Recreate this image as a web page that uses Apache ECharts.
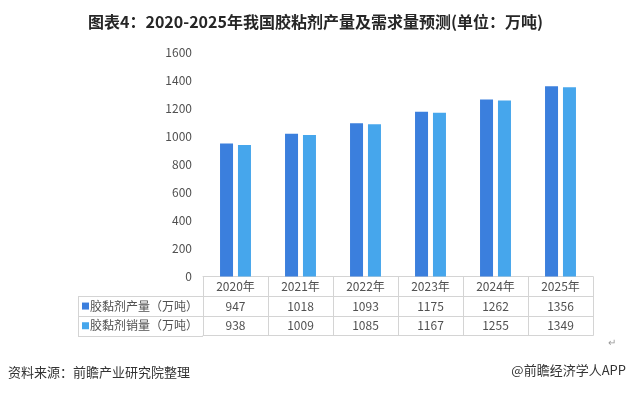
<!DOCTYPE html>
<html>
<head>
<meta charset="utf-8">
<script src="https://cdn.jsdelivr.net/npm/echarts@6/dist/echarts.min.js"></script>
<style>
html,body{margin:0;padding:0;background:#fff;}
#chart{width:631px;height:393px;}
</style>
</head>
<body>
<div id="chart"></div>
<script>
var titleText = '图表4：2020-2025年我国胶粘剂产量及需求量预测(单位：万吨)';
var categories = ['2020年','2021年','2022年','2023年','2024年','2025年'];
var seriesNames = ['胶黏剂产量（万吨）','胶黏剂销量（万吨）'];
var production = [947, 1018, 1093, 1175, 1262, 1356];
var sales = [938, 1009, 1085, 1167, 1255, 1349];
var yTicks = [0, 200, 400, 600, 800, 1000, 1200, 1400, 1600];
var sourceText = '资料来源：前瞻产业研究院整理';
var brandText = '@前瞻经济学人APP';

var colors = ['#3b7fdd', '#46a6ec'];
var FONT = '"Noto Sans CJK SC", "Noto Sans", sans-serif';
var lineColor = '#d4d4d4';
var textColor = '#505050';

var chart = echarts.init(document.getElementById('chart'), null, {renderer: 'canvas'});

var gridLeft = 203, gridRight = 38, gridTop = 52, gridBottom = 116.5;
var rowH = 19.7;

function tableAxis(data, offset, showLine, showTicks) {
  return {
    type: 'category',
    data: data,
    position: 'bottom',
    offset: offset,
    gridIndex: 0,
    axisLine: {show: showLine, lineStyle: {color: lineColor, width: 1}},
    axisTick: {show: showTicks, alignWithLabel: false, interval: 0, length: rowH * 3, lineStyle: {color: lineColor}},
    axisLabel: {show: true, interval: 0, color: textColor, fontSize: 12, fontFamily: FONT, margin: 4},
    splitLine: {show: false}
  };
}

var option = {
  backgroundColor: '#ffffff',
  animation: false,
  textStyle: {fontFamily: FONT},
  title: {
    text: titleText,
    left: 'center',
    top: 9,
    textStyle: {fontSize: 16, fontWeight: 'bold', color: '#262626', fontFamily: FONT}
  },
  grid: {left: gridLeft, right: gridRight, top: gridTop, bottom: gridBottom, containLabel: false},
  yAxis: {
    type: 'value',
    min: yTicks[0],
    max: yTicks[yTicks.length - 1],
    interval: yTicks[1] - yTicks[0],
    axisLine: {show: false},
    axisTick: {show: false},
    splitLine: {show: false},
    axisLabel: {color: textColor, fontSize: 12, fontFamily: FONT, margin: 11,
      formatter: function (v) { return String(v); }}
  },
  xAxis: [
    tableAxis(categories, 0, true, true),
    tableAxis(production.map(String), rowH, true, false),
    tableAxis(sales.map(String), rowH * 2, true, false),
    Object.assign(tableAxis(categories, rowH * 3, true, false), {axisLabel: {show: false}})
  ],
  series: [
    {
      name: seriesNames[0], type: 'bar', xAxisIndex: 0, data: production,
      barWidth: 13, barGap: '38%',
      itemStyle: {color: colors[0]}
    },
    {
      name: seriesNames[1], type: 'bar', xAxisIndex: 0, data: sales,
      barWidth: 13, barGap: '38%',
      itemStyle: {color: colors[1]}
    }
  ],
  graphic: []
};

chart.setOption(option);

// table left column (legend-like labels) positioned from the axis geometry
var baseY = chart.convertToPixel({yAxisIndex: 0}, 0);
var y1 = baseY + rowH, y2 = baseY + rowH * 2, y3 = baseY + rowH * 3;
var leftX = 78;
var graphics = [];
[y1, y2, y3].forEach(function (yy) {
  graphics.push({type: 'line', shape: {x1: leftX, y1: Math.round(yy) + 0.5, x2: gridLeft, y2: Math.round(yy) + 0.5},
    style: {stroke: lineColor, lineWidth: 1}, silent: true});
});
graphics.push({type: 'line', shape: {x1: leftX + 0.5, y1: Math.round(y1), x2: leftX + 0.5, y2: Math.round(y3)},
  style: {stroke: lineColor, lineWidth: 1}, silent: true});
[0, 1].forEach(function (i) {
  var cy = baseY + rowH * (i + 1.5);
  graphics.push({type: 'rect', shape: {x: 82, y: cy - 3.5, width: 7, height: 7},
    style: {fill: colors[i]}, silent: true});
  graphics.push({type: 'text', x: 90, y: cy,
    style: {text: seriesNames[i], fill: textColor, font: '12px ' + FONT, textVerticalAlign: 'middle', verticalAlign: 'middle'}, silent: true});
});
graphics.push({type: 'text', x: 8, y: 372,
  style: {text: sourceText, fill: '#333333', font: '13px ' + FONT, verticalAlign: 'middle'}, silent: true});
graphics.push({type: 'text', right: 5, top: 364,
  style: {text: brandText, fill: '#333333', font: '13px ' + FONT}, silent: true});
graphics.push({type: 'text', x: 608, y: 337,
  style: {text: '↵', fill: '#999999', font: '10px ' + FONT}, silent: true});

chart.setOption({graphic: graphics});
</script>
</body>
</html>
